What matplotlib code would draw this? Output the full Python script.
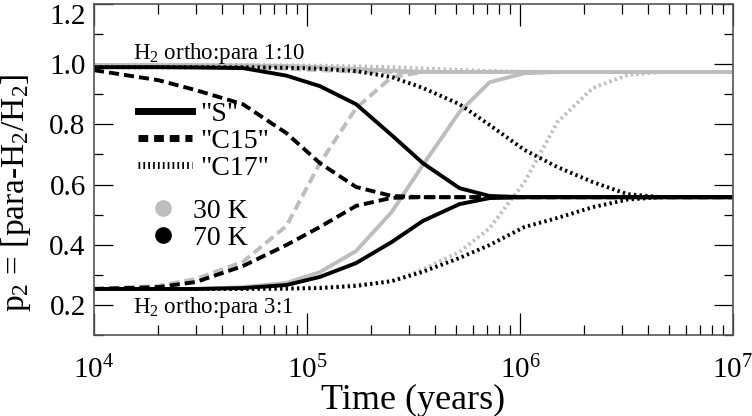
import matplotlib
matplotlib.use("Agg")
import matplotlib.pyplot as plt
from matplotlib.lines import Line2D
from matplotlib.ticker import MultipleLocator, FormatStrFormatter, LogLocator

plt.rcParams['font.family'] = ['Liberation Serif', 'DejaVu Serif']
plt.rcParams['mathtext.fontset'] = 'custom'
plt.rcParams['mathtext.rm'] = 'Liberation Serif'
plt.rcParams['mathtext.it'] = 'Liberation Serif:italic'

# time grid (years)
t = [1e4, 2e4, 3e4, 5e4, 8e4, 1.15e5, 1.7e5, 2.5e5, 3.5e5, 5.2e5, 7.2e5,
     1.05e6, 1.5e6, 2.2e6, 3.2e6, 4.6e6, 6.8e6, 1e7]

# 70 K (black)
s70_hi = [0.990, 0.990, 0.989, 0.987, 0.962, 0.927, 0.867, 0.764, 0.671, 0.588, 0.562,
          0.558, 0.558, 0.558, 0.558, 0.558, 0.558, 0.558]
s70_lo = [0.253, 0.253, 0.253, 0.256, 0.266, 0.293, 0.339, 0.409, 0.479, 0.535, 0.555,
          0.558, 0.558, 0.558, 0.558, 0.558, 0.558, 0.558]
c15_70_hi = [0.980, 0.947, 0.914, 0.867, 0.771, 0.671, 0.592, 0.562, 0.558, 0.558, 0.558,
             0.558, 0.558, 0.558, 0.558, 0.558, 0.558, 0.558]
c15_70_lo = [0.253, 0.259, 0.276, 0.329, 0.399, 0.459, 0.529, 0.556, 0.558, 0.558, 0.558,
             0.558, 0.558, 0.558, 0.558, 0.558, 0.558, 0.558]
c17_70_hi = [0.990, 0.990, 0.990, 0.990, 0.988, 0.985, 0.977, 0.957, 0.921, 0.867, 0.798,
             0.715, 0.658, 0.608, 0.568, 0.558, 0.558, 0.558]
c17_70_lo = [0.253, 0.253, 0.253, 0.253, 0.254, 0.256, 0.263, 0.279, 0.310, 0.356, 0.399,
             0.459, 0.489, 0.525, 0.550, 0.558, 0.558, 0.558]

# 30 K (grey)
s30_hi = [0.997, 0.997, 0.997, 0.996, 0.994, 0.990, 0.984, 0.978, 0.975, 0.974, 0.974,
          0.974, 0.974, 0.974, 0.974, 0.974, 0.974, 0.974]
s30_lo = [0.253, 0.253, 0.253, 0.259, 0.273, 0.309, 0.379, 0.509, 0.665, 0.841, 0.940,
          0.970, 0.974, 0.974, 0.974, 0.974, 0.974, 0.974]
c15_30_hi = [0.996, 0.995, 0.993, 0.990, 0.985, 0.980, 0.976, 0.974, 0.974, 0.974, 0.974,
             0.974, 0.974, 0.974, 0.974, 0.974, 0.974, 0.974]
c15_30_lo = [0.253, 0.263, 0.286, 0.343, 0.462, 0.671, 0.854, 0.957, 0.974, 0.974, 0.974,
             0.974, 0.974, 0.974, 0.974, 0.974, 0.974, 0.974]
c17_30_hi = [0.997, 0.997, 0.997, 0.997, 0.996, 0.995, 0.993, 0.990, 0.986, 0.981, 0.977,
             0.975, 0.974, 0.974, 0.974, 0.974, 0.974, 0.974]
c17_30_lo = [0.253, 0.253, 0.253, 0.253, 0.255, 0.258, 0.266, 0.279, 0.318, 0.376, 0.455,
             0.608, 0.808, 0.921, 0.964, 0.974, 0.974, 0.974]

yticks = [0.2, 0.4, 0.6, 0.8, 1.0, 1.2]

grey = '#bdbdbd'
solid = '-'
dashed = (0, (2.6, 1.3))
dotted = (0, (0.6, 0.85))
lw = 2.8

fig = plt.figure(figsize=(7.52, 4.16), dpi=100)
ax = fig.add_axes([0.125, 0.1947, 0.8497, 0.7957])

# grey first, black on top
ax.plot(t, c17_30_hi, color=grey, lw=lw, ls=dotted)
ax.plot(t, c17_30_lo, color=grey, lw=lw, ls=dotted)
ax.plot(t, c15_30_hi, color=grey, lw=lw, ls=dashed)
ax.plot(t, c15_30_lo, color=grey, lw=lw, ls=dashed)
ax.plot(t, s30_hi, color=grey, lw=lw, ls=solid)
ax.plot(t, s30_lo, color=grey, lw=lw, ls=solid)

ax.plot(t, c17_70_hi, color='black', lw=lw, ls=dotted)
ax.plot(t, c17_70_lo, color='black', lw=lw, ls=dotted)
ax.plot(t, c15_70_hi, color='black', lw=lw, ls=dashed)
ax.plot(t, c15_70_lo, color='black', lw=lw, ls=dashed)
ax.plot(t, s70_hi, color='black', lw=lw, ls=solid)
ax.plot(t, s70_lo, color='black', lw=lw, ls=solid)

ax.set_xscale('log')
ax.set_xlim(1e4, 1e7)
ax.set_ylim(0.1, 1.2)
ax.set_yticks(yticks)
ax.yaxis.set_minor_locator(MultipleLocator(0.1))
ax.yaxis.set_major_formatter(FormatStrFormatter('%.1f'))
ax.xaxis.set_minor_locator(LogLocator(base=10, subs=range(2, 10)))

ax.tick_params(which='both', direction='in', top=True, right=True, width=0.9)
ax.tick_params(axis='y', which='major', length=14, labelsize=21, pad=6)
ax.tick_params(axis='y', which='minor', length=6.5)
ax.tick_params(axis='x', which='major', length=16, labelsize=21, pad=15)
ax.tick_params(axis='x', which='minor', length=7)
for sp in ax.spines.values():
    sp.set_color('#555555')
    sp.set_linewidth(1.2)

# top label "1.2" hangs below its tick so it is not cut off
ax.yaxis.get_major_ticks(len(yticks))[-1].label1.set_va('top')

ax.set_xlabel('Time (years)', fontsize=26, labelpad=0)
ax.set_ylabel('p$_2$ = [para-H$_2$/H$_2$]', fontsize=24)
ax.yaxis.set_label_coords(-0.096, 0.43)

ax.text(0.061, 0.85, 'H$_2$ ortho:para 1:10', transform=ax.transAxes, fontsize=16.5, va='center')
ax.text(0.061, 0.082, 'H$_2$ ortho:para 3:1', transform=ax.transAxes, fontsize=16.5, va='center')

# legend for models
h_models = [Line2D([], [], color='black', lw=5, ls='-'),
            Line2D([], [], color='black', lw=5, ls=(0, (1.4, 0.85))),
            Line2D([], [], color='black', lw=5, ls=(0, (0.25, 0.45)))]
leg1 = ax.legend(h_models, ['"S"', '"C15"', '"C17"'], loc='upper left',
                 bbox_to_anchor=(0.069, 0.705), frameon=False, fontsize=20,
                 handlelength=1.95, handletextpad=0.3, labelspacing=0.05,
                 borderpad=0, borderaxespad=0)
ax.add_artist(leg1)

# legend for temperature
h_temp = [Line2D([], [], color=grey, marker='o', ms=11, ls='none'),
          Line2D([], [], color='black', marker='o', ms=11, ls='none')]
ax.legend(h_temp, ['30 K', '70 K'], loc='upper left', bbox_to_anchor=(0.086, 0.412),
          frameon=False, fontsize=20, handlelength=1.0, handletextpad=0.58,
          labelspacing=0.05, borderpad=0, borderaxespad=0)

fig.savefig('out.png', dpi=100)
